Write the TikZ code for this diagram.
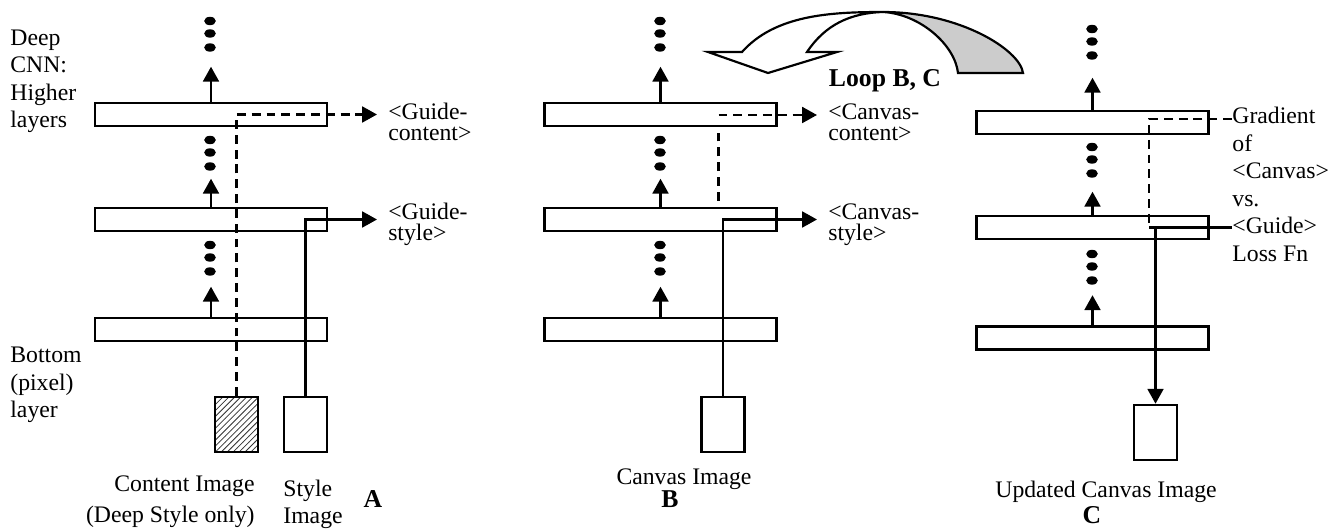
\documentclass[tikz,border=0pt]{standalone}
\usepackage{fontspec}
\setmainfont{Liberation Serif}
\usetikzlibrary{arrows.meta,patterns}
\newlength{\du}
\setlength{\du}{5.06\unitlength}

\tikzset{
  layerbox/.style={draw, line width=1.3pt, minimum width=23.2\du, minimum height=2.3\du, inner sep=0pt},
  imgbox/.style={draw, line width=1.3pt, minimum width=4.3\du, minimum height=5.5\du, inner sep=0pt},
  solidarrow/.style={line width=1.2pt, -{Triangle[width=8pt,length=7.5pt]}},
  dashline/.style={line width=1.2pt, dash pattern=on 4.5pt off 3pt},
  dasharrow/.style={dashline, -{Triangle[width=8pt,length=7.5pt]}},
  plainline/.style={line width=1.2pt},
  sidelbl/.style={align=left, inner sep=0pt, font=\fontsize{12}{13.7}\selectfont},
  outlbl/.style={align=left, inner xsep=5.5pt, inner ysep=0pt, font=\fontsize{12}{10.6}\selectfont},
  imglbl/.style={inner sep=0pt, font=\fontsize{12}{14}\selectfont},
  paneltag/.style={inner sep=0pt, font=\fontsize{13}{15}\selectfont\bfseries},
}

% three dots of a layer column
\newcommand{\dotstack}[2]{%
  \foreach \dy in {0,1.25,2.65}{\fill (#1\du,#2\du+\dy\du) ellipse [x radius=0.58\du, y radius=0.42\du];}}

\begin{document}
\begin{tikzpicture}
\pgftransformyscale{-1.000000}
\useasboundingbox (0\du,0\du) rectangle (134.1\du,53.1\du);

% panel A
\node[layerbox] (A1) at (21.1\du,11.45\du) {};
\node[layerbox] (A2) at (21.1\du,21.95\du) {};
\node[layerbox] (A3) at (21.1\du,32.95\du) {};
\dotstack{21.0}{2.1}
\dotstack{21.0}{14.0}
\dotstack{21.0}{24.5}
\draw[solidarrow] (A1.north) -- ++(0,-3.5\du);
\draw[solidarrow] (A2.north) -- ++(0,-2.8\du);
\draw[solidarrow] (A3.north) -- ++(0,-3.0\du);
\node[imgbox, pattern=north east lines, pattern color=black!80] (cimg) at (23.65\du,42.45\du) {};
\node[imgbox] (simg) at (30.55\du,42.45\du) {};
\node[outlbl, anchor=north west] (gc) at (37.7\du,10.3\du) {<Guide-\\content>};
\node[outlbl, anchor=north west] (gs) at (37.7\du,20.3\du) {<Guide-\\style>};
\draw[dasharrow] (cimg.north) |- (gc.west |- A1.center);
\draw[solidarrow] (simg.north) |- (gs.west |- A2.center);
\node[sidelbl, anchor=north west] (deep) at (1.0\du,3.0\du) {Deep\\CNN:\\Higher\\layers};
\node[sidelbl, anchor=north west] (pix) at (1.0\du,34.7\du) {Bottom\\(pixel)\\layer};
\node[imglbl, align=right, anchor=north east, font=\fontsize{12}{15.7}\selectfont] (cname) at (25.5\du,47.5\du) {Content Image\\(Deep Style only)};
\node[imglbl, align=left, anchor=north west, font=\fontsize{12}{13.7}\selectfont] (sname) at (28.3\du,48.0\du) {Style\\Image};
\node[paneltag, anchor=base] (tagA) at (37.3\du,50.7\du) {A};

% panel B
\node[layerbox] (B1) at (66.05\du,11.45\du) {};
\node[layerbox] (B2) at (66.05\du,21.95\du) {};
\node[layerbox] (B3) at (66.05\du,32.95\du) {};
\dotstack{66.0}{2.1}
\dotstack{66.0}{14.0}
\dotstack{66.0}{24.5}
\draw[solidarrow] (B1.north) -- ++(0,-3.5\du);
\draw[solidarrow] (B2.north) -- ++(0,-2.8\du);
\draw[solidarrow] (B3.north) -- ++(0,-3.0\du);
\node[imgbox] (bimg) at (72.3\du,42.45\du) {};
\node[outlbl, anchor=north west] (bc) at (81.7\du,10.3\du) {<Canvas-\\content>};
\node[outlbl, anchor=north west] (bs) at (81.7\du,20.3\du) {<Canvas-\\style>};
\coordinate (Bc) at (71.85\du,11.5\du);
\draw[dashline, shorten <=3pt] (Bc |- B2.north) -- (Bc |- B1.south);
\draw[dasharrow] (Bc) -- (bc.west |- Bc);
\draw[solidarrow] (bimg.north) |- (bs.west |- B2.center);
\node[imglbl, anchor=base] (bname) at (68.4\du,48.4\du) {Canvas Image};
\node[paneltag, anchor=base] (tagB) at (67.0\du,50.7\du) {B};

% loop arrow
\draw[line width=1.1pt, fill=white] (74.2\du,5.2\du) .. controls (77.5\du,1.5\du) and (83\du,1.2\du) .. (88.3\du,1.2\du)
  .. controls (85\du,1.3\du) and (82.5\du,2.5\du) .. (80.7\du,5.2\du)
  -- (83.7\du,5.2\du) -- (76.8\du,7.3\du) -- (70.8\du,5.2\du) -- cycle;
\draw[line width=1.1pt, fill=black!20] (88.3\du,1.2\du) .. controls (96\du,1.2\du) and (102\du,5\du) .. (102.3\du,7.3\du)
  -- (95.8\du,7.3\du) .. controls (95.5\du,4.5\du) and (92\du,1.4\du) .. (88.3\du,1.2\du) -- cycle;
\node[paneltag, anchor=base] (loop) at (88.5\du,8.7\du) {Loop B, C};

% panel C
\node[layerbox] (C1) at (109.25\du,12.25\du) {};
\node[layerbox] (C2) at (109.25\du,22.75\du) {};
\node[layerbox] (C3) at (109.25\du,33.8\du) {};
\dotstack{109.2}{2.9}
\dotstack{109.2}{14.7}
\dotstack{109.2}{25.4}
\draw[solidarrow] (C1.north) -- ++(0,-3.2\du);
\draw[solidarrow] (C2.north) -- ++(0,-2.3\du);
\draw[solidarrow] (C3.north) -- ++(0,-3.0\du);
\node[imgbox] (uimg) at (115.55\du,43.25\du) {};
\node[sidelbl, anchor=north west, font=\fontsize{12}{13.9}\selectfont] (gr) at (123.2\du,10.7\du) {Gradient\\of\\<Canvas>\\vs.\\<Guide>\\Loss Fn};
\coordinate (Cg) at (114.9\du,11.9\du);
\draw[dashline] (gr.west |- Cg) -- (Cg) -- (Cg |- C2.center);
\draw[plainline] (gr.west |- C2.center) -- (C2.center -| Cg);
\draw[solidarrow] (uimg.north |- C2.center) -- (uimg.north);
\node[imglbl, anchor=base] (uname) at (110.6\du,49.7\du) {Updated Canvas Image};
\node[paneltag, anchor=base] (tagC) at (109.2\du,52.3\du) {C};
\end{tikzpicture}
\end{document}
